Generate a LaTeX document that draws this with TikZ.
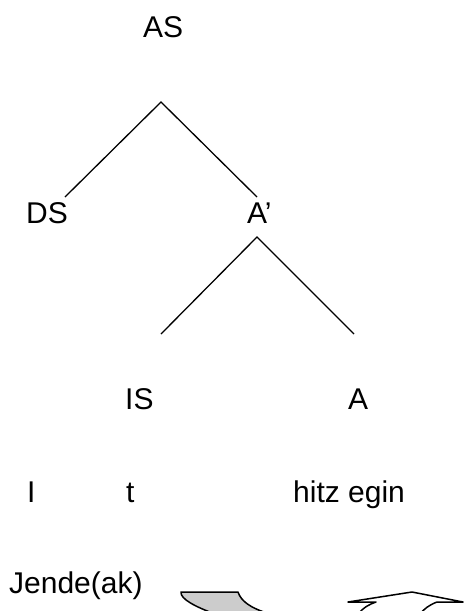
\documentclass[tikz,border=0pt]{standalone}
\usepackage{fontspec}
\setmainfont{Liberation Sans}
\definecolor{shade}{RGB}{204,204,204}
\begin{document}
\begin{tikzpicture}[x=1pt,y=-1pt,
  lbl/.style={anchor=base west,inner sep=0pt,font=\fontsize{30}{34}\selectfont},
  branch/.style={line width=1.3pt},
  piece/.style={line width=1.5pt,line join=round}]
\useasboundingbox (0,0) rectangle (464,611);
\clip (0,0) rectangle (464,611);
% labels
\node[lbl] (AS) at (143,37) {AS};
\node[lbl] (DS) at (26,223) {DS};
\node[lbl] (Ab) at (247,223) {A’};
\node[lbl] (IS) at (125,409) {IS};
\node[lbl] (A) at (348,409) {A};
\node[lbl] (I) at (27,502) {I};
\node[lbl] (t) at (126,502) {t};
\node[lbl] (he) at (293,502) {hitz egin};
\node[lbl] (J) at (9,593) {Jende(ak)};
% branch points
\coordinate (asTop) at (161,102);
\coordinate (dsEnd) at (65,197);
\coordinate (abEnd) at (257,197);
\coordinate (abTop) at (257,237);
\coordinate (isEnd) at (161,334);
\coordinate (aEnd) at (354,334);
\draw[branch] (dsEnd) -- (asTop) -- (abEnd);
\draw[branch] (isEnd) -- (abTop) -- (aEnd);
% bottom arrow pieces (cut by the page edge)
\coordinate (g1) at (215,614);
\coordinate (g2) at (181,592);
\coordinate (g3) at (238,592);
\coordinate (g4) at (270,614);
\filldraw[piece,fill=shade] (g1) .. controls (196,607) and (180,599) .. (g2) -- (g3)
  .. controls (241,601) and (250,608) .. (g4);
\coordinate (h1) at (358,614);
\coordinate (h2) at (376,602);
\coordinate (h3) at (348,602);
\coordinate (h4) at (412,592);
\coordinate (h5) at (463,602);
\coordinate (h6) at (437,602);
\coordinate (h7) at (420,614);
\draw[piece,fill=white] (h1) .. controls (364,607) and (370,604) .. (h2) -- (h3) -- (h4) -- (h5) -- (h6)
  .. controls (429,605) and (424,609) .. (h7);
\end{tikzpicture}
\end{document}
